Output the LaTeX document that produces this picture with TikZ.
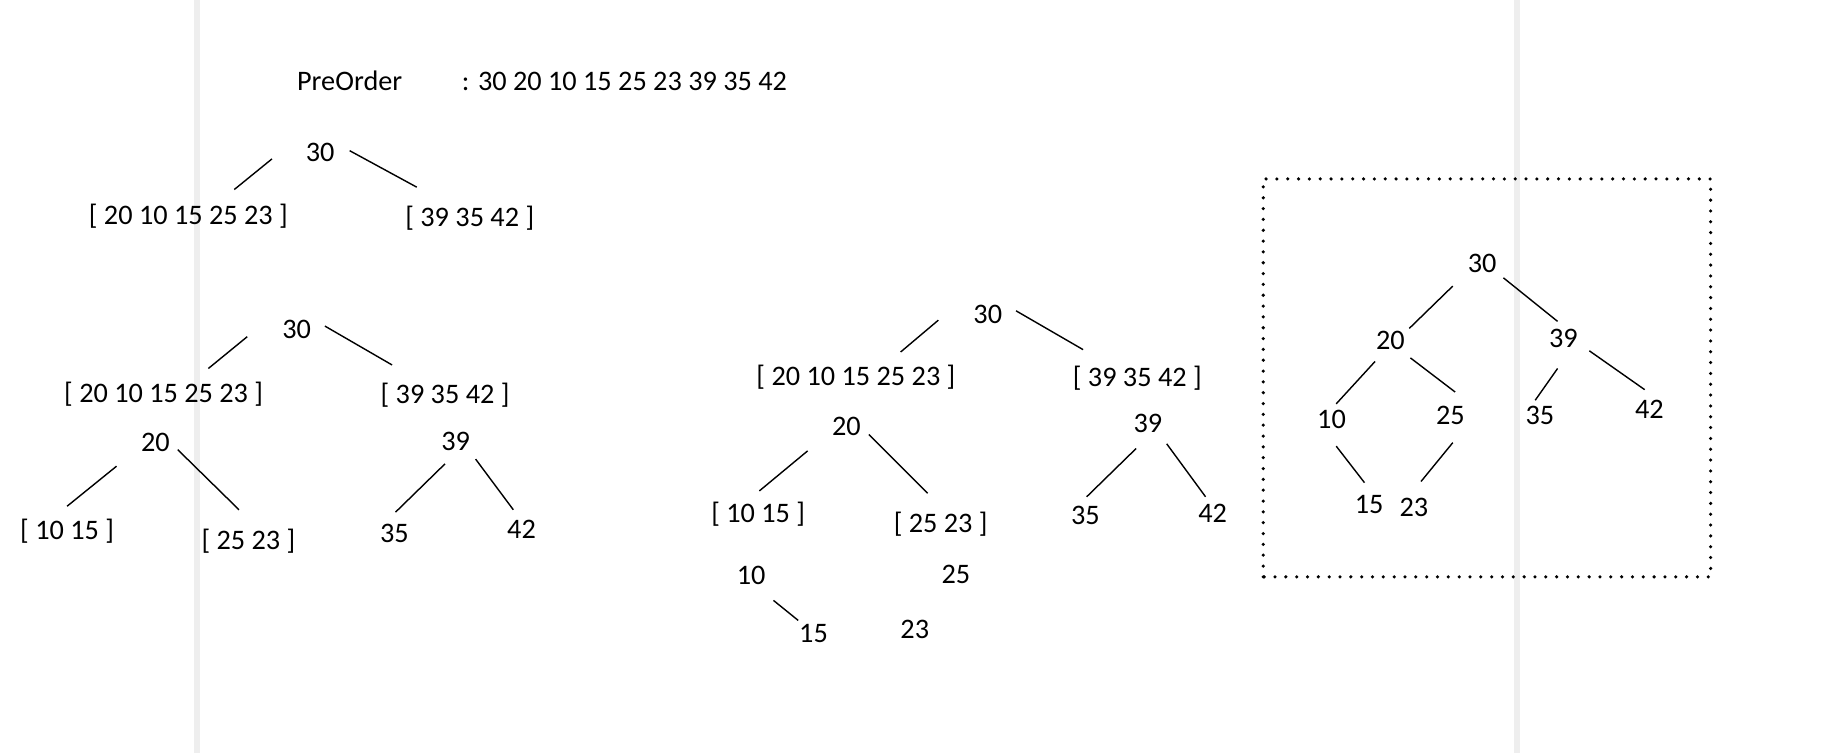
\documentclass[tikz,border=0pt]{standalone}
\usepackage{fontspec}
\setmainfont{Carlito}
\definecolor{bandgray}{HTML}{EEEEEE}

\begin{document}
\begin{tikzpicture}[x=0.5pt, y=0.5pt,
				elem/.style={inner sep=0pt, text height=7.6pt, text depth=0pt, font=\fontsize{12}{14}\selectfont},
				band/.style={fill=bandgray, draw=none},
				framebox/.style={line width=1.5pt, line cap=round, dash pattern=on 0pt off 4.6pt}
			]
			\useasboundingbox (0,0) rectangle (1568,640);
			\fill[band] (165,0) rectangle (170,640);
			\fill[band] (1286,0) rectangle (1291,640);
			\node[elem] (pre) at (297,571) {PreOrder};
			\node[elem, anchor=west] (seq) at (392,571) {: 30 20 10 15 25 23 39 35 42};
			\node[elem] (t1r) at (272,510) {30};
			\node[elem] (t1a) at (160,457) {[ 20 10 15 25 23 ]};
			\node[elem] (t1b) at (399,455) {[ 39 35 42 ]};
			\node[elem] (t2r) at (252,360) {30};
			\node[elem] (t2a) at (139,306) {[ 20 10 15 25 23 ]};
			\node[elem] (t2b) at (378,305) {[ 39 35 42 ]};
			\node[elem] (t2c) at (132,264) {20};
			\node[elem] (t2d) at (387,265) {39};
			\node[elem] (t2e) at (57,189) {[ 10 15 ]};
			\node[elem] (t2f) at (211,181) {[ 25 23 ]};
			\node[elem] (t2g) at (335,187) {35};
			\node[elem] (t2h) at (443,190) {42};
			\node[elem] (t3r) at (839,373) {30};
			\node[elem] (t3a) at (727,320) {[ 20 10 15 25 23 ]};
			\node[elem] (t3b) at (966,319) {[ 39 35 42 ]};
			\node[elem] (t3c) at (719,278) {20};
			\node[elem] (t3d) at (975,280) {39};
			\node[elem] (t3e) at (644,204) {[ 10 15 ]};
			\node[elem] (t3f) at (799,195) {[ 25 23 ]};
			\node[elem] (t3g) at (922,202) {35};
			\node[elem] (t3h) at (1030,204) {42};
			\node[elem] (t3i) at (638,151) {10};
			\node[elem] (t3j) at (691,102) {15};
			\node[elem] (t3k) at (812,152) {25};
			\node[elem] (t3l) at (777,105) {23};
			\node[elem] (t4r) at (1259,416) {30};
			\node[elem] (t4a) at (1181,351) {20};
			\node[elem] (t4b) at (1328,352) {39};
			\node[elem] (t4c) at (1131,284) {10};
			\node[elem] (t4d) at (1232,287) {25};
			\node[elem] (t4e) at (1308,287) {35};
			\node[elem] (t4f) at (1401,292) {42};
			\node[elem] (t4g) at (1163,211) {15};
			\node[elem] (t4h) at (1201,209) {23};
			\draw[framebox] (1073,150) rectangle (1453,488);
			\begin{scope}[line width=0.6pt]
			\draw ([shift={(-41,-5)}]t1r.center) -- ([shift={(39,22)}]t1a.center);
			\draw ([shift={(25,2)}]t1r.center) -- ([shift={(-45,26)}]t1b.center);
			\draw ([shift={(-42,-6)}]t2r.center) -- ([shift={(38,21)}]t2a.center);
			\draw ([shift={(24,3)}]t2r.center) -- ([shift={(-45,25)}]t2b.center);
			\draw ([shift={(-33,-20)}]t2c.center) -- ([shift={(0,21)}]t2e.center);
			\draw ([shift={(19,-6)}]t2c.center) -- ([shift={(-8,26)}]t2f.center);
			\draw ([shift={(-9,-19)}]t2d.center) -- ([shift={(1,18)}]t2g.center);
			\draw ([shift={(17,-15)}]t2d.center) -- ([shift={(-7,17)}]t2h.center);
			\draw ([shift={(-42,-5)}]t3r.center) -- ([shift={(38,21)}]t3a.center);
			\draw ([shift={(24,3)}]t3r.center) -- ([shift={(-46,24)}]t3b.center);
			\draw ([shift={(-33,-21)}]t3c.center) -- ([shift={(1,19)}]t3e.center);
			\draw ([shift={(19,-7)}]t3c.center) -- ([shift={(-11,26)}]t3f.center);
			\draw ([shift={(-10,-21)}]t3d.center) -- ([shift={(1,16)}]t3g.center);
			\draw ([shift={(16,-17)}]t3d.center) -- ([shift={(-6,14)}]t3h.center);
			\draw ([shift={(19,-21)}]t3i.center) -- ([shift={(-13,11)}]t3j.center);
			\draw ([shift={(-25,-19)}]t4r.center) -- ([shift={(16,10)}]t4a.center);
			\draw ([shift={(18,-12)}]t4r.center) -- ([shift={(-5,15)}]t4b.center);
			\draw ([shift={(-13,-18)}]t4a.center) -- ([shift={(4,13)}]t4c.center);
			\draw ([shift={(17,-15)}]t4a.center) -- ([shift={(4,20)}]t4d.center);
			\draw ([shift={(-5,-25)}]t4b.center) -- ([shift={(-4,13)}]t4e.center);
			\draw ([shift={(22,-10)}]t4b.center) -- ([shift={(-4,17)}]t4f.center);
			\draw ([shift={(4,-23)}]t4c.center) -- ([shift={(-4,19)}]t4g.center);
			\draw ([shift={(2,-23)}]t4d.center) -- ([shift={(6,22)}]t4h.center);
			\end{scope}
			\end{tikzpicture}
\end{document}
